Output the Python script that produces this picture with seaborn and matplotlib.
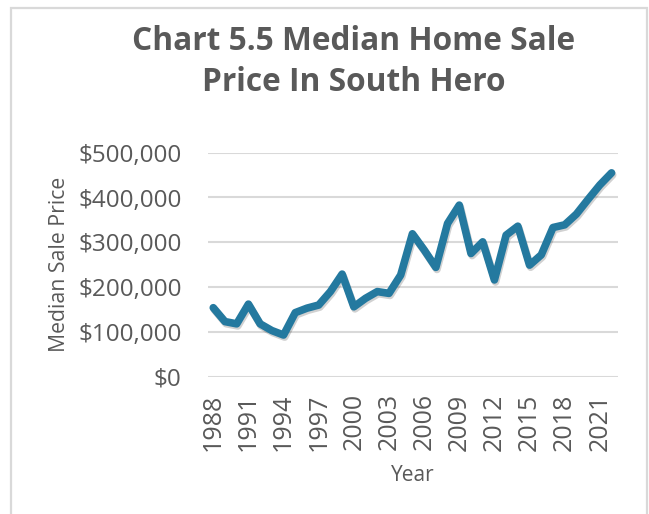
import matplotlib
matplotlib.use("Agg")
import matplotlib.pyplot as plt
import matplotlib.patheffects as pe
from matplotlib.patches import Rectangle
from matplotlib.ticker import FuncFormatter
import pandas as pd
import seaborn as sns

years = list(range(1988, 2023))
median_price = [
    154000, 123000, 118000, 162000, 118000, 103000, 93000, 143000, 153000, 160000,
    190000, 229000, 156000, 175000, 190000, 186000, 227000, 319000, 283000, 244000,
    342000, 383000, 275000, 301000, 216000, 316000, 336000, 249000, 272000, 333000,
    339000, 363000, 396000, 428000, 455000,
]
tick_years = list(range(1988, 2022, 3))
y_ticks = [0, 100000, 200000, 300000, 400000, 500000]

TEXT = "#595959"
LINE = "#24799f"
GRID = "#d9d9d9"


def dollars(value, _pos=None) -> str:
    return f"${int(value):,}"


def main() -> None:
    sns.set_theme(style="white")
    plt.rcParams["font.family"] = ["Open Sans", "DejaVu Sans"]

    df = pd.DataFrame({"Year": years, "Median Sale Price": median_price})

    fig = plt.figure(figsize=(6.49, 5.14), dpi=100)
    ax = fig.add_axes([208 / 649, 1 - 376.7 / 514, 410 / 649, 224 / 514])

    # chart-area border like the spreadsheet export
    fig.patches.append(
        Rectangle((11 / 649, -0.05), 636 / 649, 1.05 - 7.5 / 514,
                  transform=fig.transFigure, fill=False,
                  edgecolor=GRID, linewidth=1.6)
    )

    sns.lineplot(data=df, x="Year", y="Median Sale Price", color=LINE,
                 linewidth=5.5, ax=ax)
    line = ax.get_lines()[0]
    line.set_solid_joinstyle("round")
    line.set_solid_capstyle("round")
    line.set_path_effects([
        pe.SimpleLineShadow(offset=(0.8, -1.5), shadow_color="#000000", alpha=0.18),
        pe.Normal(),
    ])

    ax.set_xlim(1987.55, 2022.55)
    ax.set_ylim(0, 500000)
    ax.set_xticks(tick_years)
    ax.set_xticklabels([str(y) for y in tick_years], rotation=90)
    ax.set_yticks(y_ticks)
    ax.yaxis.set_major_formatter(FuncFormatter(dollars))
    ax.tick_params(axis="y", length=0, labelsize=17.5, colors=TEXT, pad=19)
    ax.tick_params(axis="x", length=0, labelsize=18, colors=TEXT, pad=12)

    ax.grid(axis="y", color=GRID, linewidth=1.5)
    ax.set_axisbelow(True)
    for spine in ax.spines.values():
        spine.set_visible(False)

    ax.set_xlabel("Year", fontsize=15, color=TEXT, labelpad=10)
    ax.set_ylabel("Median Sale Price", fontsize=15.3, color=TEXT, labelpad=6)

    fig.text(354 / 649, 1 - 62 / 514, "Chart 5.5 Median Home Sale\nPrice In South Hero",
             ha="center", va="center", fontsize=22.8, fontweight="bold",
             color=TEXT, linespacing=1.32)

    fig.savefig("out.png", dpi=100)
    plt.close(fig)


if __name__ == "__main__":
    main()
